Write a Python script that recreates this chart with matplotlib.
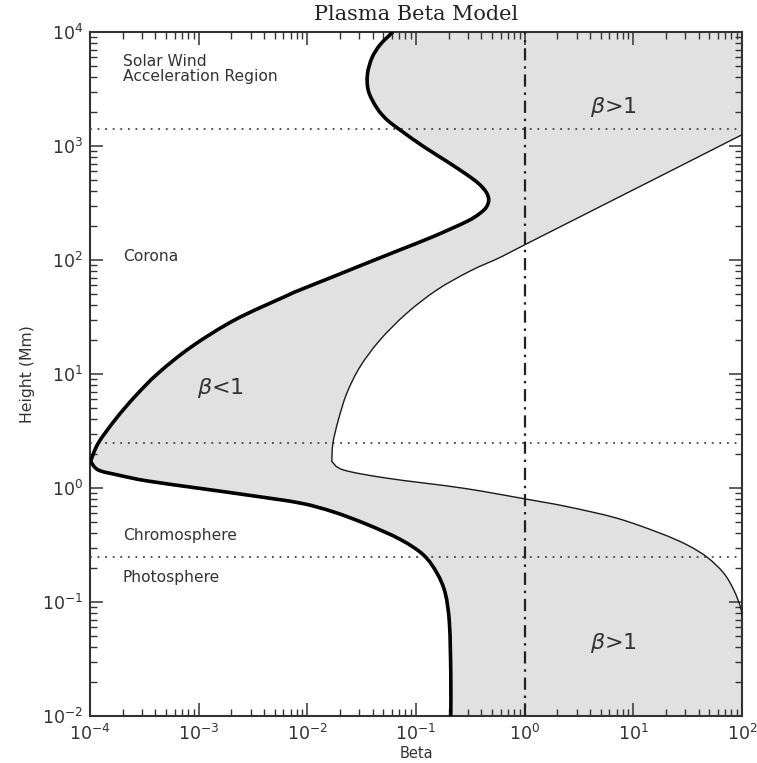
import numpy as np
import matplotlib
matplotlib.use("Agg")
import matplotlib.pyplot as plt
from matplotlib.path import Path
from matplotlib.patches import PathPatch
from matplotlib.ticker import FixedLocator, LogLocator, LogFormatterSciNotation, NullFormatter

# Lower envelope of plasma beta (thick curve), from the top of the domain downwards
thick_height = [10000, 7740, 5920, 4220, 3010, 2150, 1699, 1370, 991, 731, 560, 467,
                393, 337, 290, 254, 218, 161, 123, 94.0, 71.6, 54.7, 47.9, 29.9,
                17.4, 10.2, 6.34, 3.96, 2.47, 1.71, 1.44, 1.30, 1.154, 0.992, 0.861,
                0.738, 0.617, 0.480, 0.354, 0.259, 0.179, 0.119, 0.0652, 0.0237, 0.01]
thick_beta = [0.0612, 0.0468, 0.0393, 0.0357, 0.0366, 0.0437, 0.0540, 0.0723, 0.117,
              0.193, 0.294, 0.378, 0.443, 0.467, 0.443, 0.382, 0.294, 0.145, 0.0716,
              0.0353, 0.0174, 0.00859, 0.00625, 0.00216, 8.63e-4, 4.26e-4, 2.59e-4,
              1.70e-4, 1.19e-4, 1.01e-4, 1.19e-4, 1.81e-4, 3.35e-4, 1.03e-3, 2.97e-3,
              8.59e-3, 0.0174, 0.0353, 0.0716, 0.117, 0.156, 0.186, 0.203, 0.209, 0.209]
thick_corner = 29  # cusp at the transition region

# Upper envelope of plasma beta (thin curve), from the top of the domain downwards
thin_height = [1256, 492, 136, 105.5, 80.2, 54.7, 34.2, 19.95, 11.6, 6.79, 3.96, 2.47,
               1.71, 1.44, 1.22, 0.995, 0.802, 0.687, 0.543, 0.401, 0.317, 0.247,
               0.179, 0.128, 0.091, 0.0755]
thin_beta = [100, 14.4, 1.0, 0.596, 0.316, 0.156, 0.0824, 0.0468, 0.0306, 0.0231,
             0.0193, 0.0172, 0.0168, 0.0215, 0.0540, 0.274, 1.01, 2.45, 7.08, 17.7,
             31.2, 47.8, 67.9, 83.9, 96.6, 100]
thin_corner = 12

layer_bounds = [1.4e3, 2.5, 0.25]
beta_unity = 1.0

region_names = ["Solar Wind\nAcceleration Region", "Corona", "Chromosphere", "Photosphere"]
region_heights = [4.7e3, 107, 0.38, 0.163]
region_beta = 2.0e-4

beta_texts = [r"$\beta$>1", r"$\beta$<1", r"$\beta$>1"]
beta_text_x = [6.5, 1.6e-3, 6.5]
beta_text_y = [2.2e3, 7.55, 0.044]

x_limits = (1e-4, 1e2)
y_limits = (1e-2, 1e4)
x_decades = [1e-4, 1e-3, 1e-2, 1e-1, 1e0, 1e1, 1e2]
y_decades = [1e-2, 1e-1, 1e0, 1e1, 1e2, 1e3, 1e4]

ink = "#333333"


def smooth_curve(xs, ys, corners=()):
    """Bezier path through the points (Catmull-Rom in log-log space), kinked at corners."""
    pts = np.column_stack([np.log10(xs), np.log10(ys)])
    cuts = [0] + sorted(corners) + [len(pts) - 1]
    verts = [pts[0]]
    codes = [Path.MOVETO]
    for a, b in zip(cuts[:-1], cuts[1:]):
        q = pts[a:b + 1]
        n = len(q)
        for i in range(n - 1):
            p0 = q[i - 1] if i > 0 else q[i]
            p1, p2 = q[i], q[i + 1]
            p3 = q[i + 2] if i + 2 < n else q[i + 1]
            verts += [p1 + (p2 - p0) / 6.0, p2 - (p3 - p1) / 6.0, p2]
            codes += [Path.CURVE4] * 3
    return 10 ** np.array(verts), codes


fig = plt.figure(figsize=(7.57, 7.63), dpi=100)
ax = fig.add_axes([90 / 757, 1 - 716 / 763, 652 / 757, 684 / 763])
ax.set_xscale("log")
ax.set_yscale("log")
ax.set_xlim(*x_limits)
ax.set_ylim(*y_limits)

thick_v, thick_c = smooth_curve(thick_beta, thick_height, [thick_corner])
thin_v, thin_c = smooth_curve(thin_beta, thin_height, [thin_corner])
thin_rv, thin_rc = smooth_curve(thin_beta[::-1], thin_height[::-1],
                                [len(thin_beta) - 1 - thin_corner])

# Shaded band between the two envelopes, closed along the right-hand boundary
fill_v = np.vstack([thick_v, [[x_limits[1], y_limits[0]]], thin_rv,
                    [[x_limits[1], y_limits[1]], thick_v[0]]])
fill_c = (thick_c + [Path.LINETO] + [Path.LINETO] + thin_rc[1:]
          + [Path.LINETO, Path.CLOSEPOLY])
ax.add_patch(PathPatch(Path(fill_v, fill_c), facecolor="#e1e1e1", edgecolor="none",
                       zorder=1))

ax.add_patch(PathPatch(Path(thick_v, thick_c), facecolor="none", edgecolor="black",
                       lw=2.6, joinstyle="round", capstyle="butt", zorder=4))
ax.add_patch(PathPatch(Path(thin_v, thin_c), facecolor="none", edgecolor="#1a1a1a",
                       lw=1.0, zorder=4))

for h in layer_bounds:
    ax.axhline(h, color="#444444", lw=1.3, ls=(0, (1, 3.2)), zorder=3)
ax.axvline(beta_unity, color="#222222", lw=1.6, dashes=(5.5, 2.6, 1.1, 2.6), zorder=3)

for name, h in zip(region_names, region_heights):
    ax.text(region_beta, h, name, fontsize=11.2, color=ink, va="center", ha="left",
            linespacing=1.0, zorder=5)

for t, bx, by in zip(beta_texts, beta_text_x, beta_text_y):
    ax.text(bx, by, t, fontsize=16, color=ink, ha="center", va="center", zorder=5)

ax.xaxis.set_major_locator(FixedLocator(x_decades))
ax.yaxis.set_major_locator(FixedLocator(y_decades))
ax.xaxis.set_minor_locator(LogLocator(base=10, subs=np.arange(2, 10), numticks=100))
ax.yaxis.set_minor_locator(LogLocator(base=10, subs=np.arange(2, 10), numticks=100))
ax.xaxis.set_major_formatter(LogFormatterSciNotation())
ax.yaxis.set_major_formatter(LogFormatterSciNotation())
ax.xaxis.set_minor_formatter(NullFormatter())
ax.yaxis.set_minor_formatter(NullFormatter())

ax.tick_params(which="both", direction="in", top=True, right=True, color=ink,
               labelcolor=ink)
ax.tick_params(which="major", length=9.5, width=1.1, labelsize=12.5)
ax.tick_params(axis="x", which="major", pad=6)
ax.tick_params(axis="y", which="major", pad=5)
ax.tick_params(which="minor", length=5, width=1.0)

for sp in ax.spines.values():
    sp.set_linewidth(1.5)
    sp.set_color(ink)

ax.set_xlabel("Beta", fontsize=10.5, color=ink, labelpad=1)
ax.set_ylabel("Height (Mm)", fontsize=11.3, color=ink, labelpad=5)
ax.set_title("Plasma Beta Model", fontfamily="DejaVu Serif", fontsize=15,
             color="#222222", pad=9)

fig.savefig("out.png", dpi=100)
